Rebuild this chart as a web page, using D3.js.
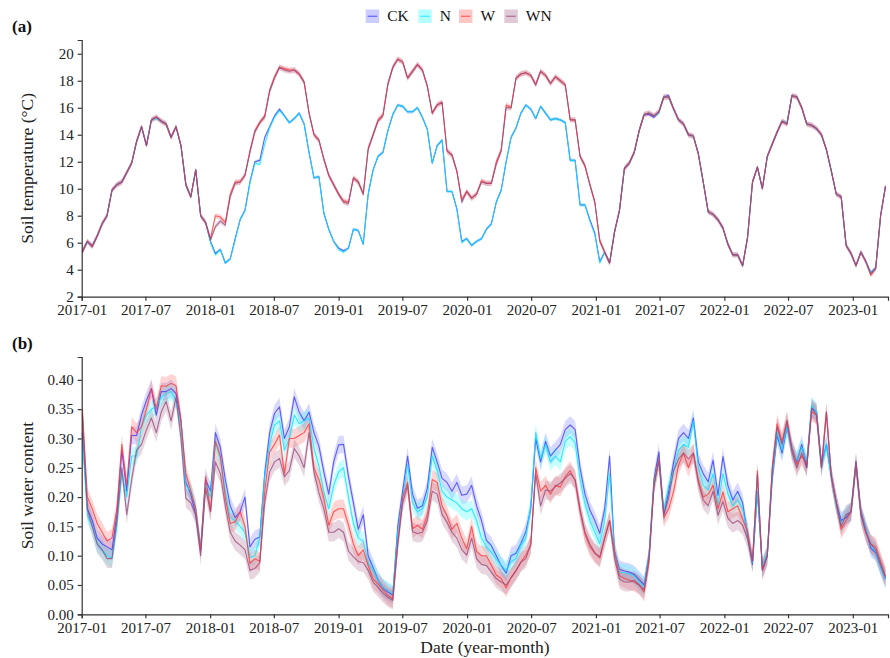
<!DOCTYPE html>
<html>
<head>
<meta charset="utf-8">
<script src="https://cdn.jsdelivr.net/npm/d3@7"></script>
<style>
  body { margin: 0; background: #fff; }
  text { font-family: "Liberation Serif", "Times New Roman", serif; }
</style>
</head>
<body>
<svg id="chart" width="890" height="658"></svg>
<script>

// ---- data (one sample every two weeks) ----
const groups = ["CK", "N", "W", "WN"];
const START_DATE = "2017-01-03";
const STEP_DAYS = 14;

const tempTicks = [2, 4, 6, 8, 10, 12, 14, 16, 18, 20];
const swcTicks = [0, 0.05, 0.10, 0.15, 0.20, 0.25, 0.30, 0.35, 0.40];

// soil temperature (°C)
const tCK = [5.3,6.1,5.7,6.5,7.4,8.0,9.9,10.3,10.5,11.2,11.9,13.5,14.6,13.2,15.1,15.3,15.0,14.8,13.8,14.6,13.2,10.3,9.4,11.4,8.0,7.5,
  6.1,5.2,5.5,4.5,4.8,6.3,7.7,8.4,10.5,12.0,12.1,13.8,14.6,15.4,15.9,15.4,14.9,15.2,15.6,14.8,12.7,10.8,10.9,8.2,7.0,
  6.1,5.6,5.4,5.6,7.0,6.9,5.9,9.6,11.4,12.4,12.7,14.3,15.5,16.2,16.1,15.7,15.7,16.0,15.3,14.4,11.9,13.2,13.6,9.8,9.8,
  8.5,6.1,6.3,5.8,6.1,6.3,7.0,7.4,9.0,9.9,12.0,13.8,14.5,15.6,16.2,15.9,15.2,16.1,15.6,15.1,15.2,15.1,14.9,12.1,12.1,
  8.8,8.8,7.7,6.7,4.6,5.3,4.5,6.8,8.4,11.5,11.9,12.7,14.3,15.5,15.5,15.3,15.7,16.8,16.9,15.9,15.1,14.8,14.0,13.9,12.6,
  10.5,8.3,8.1,7.7,7.1,5.9,5.1,5.1,4.3,6.4,10.5,11.6,10.0,12.4,13.3,14.2,15.0,14.8,16.9,16.8,16.0,14.8,14.7,14.45,14.0,
  12.9,11.3,9.6,9.4,5.8,5.2,4.3,5.3,4.6,3.8,4.1,8.0,10.2];
const tN = [5.4,6.0,5.8,6.5,7.4,8.0,9.9,10.3,10.5,11.2,11.9,13.5,14.6,13.2,15.1,15.2,15.0,14.8,13.8,14.6,13.2,10.3,9.4,11.4,8.0,7.5,
  6.0,5.1,5.5,4.5,4.8,6.2,7.7,8.4,10.4,11.9,11.8,13.3,14.5,15.3,15.8,15.4,14.9,15.2,15.6,14.8,12.7,10.8,10.9,8.2,7.0,
  6.1,5.5,5.3,5.6,7.0,6.9,5.9,9.6,11.4,12.4,12.7,14.3,15.5,16.2,16.1,15.7,15.7,16.0,15.3,14.4,11.9,13.2,13.6,9.8,9.8,
  8.5,6.0,6.3,5.8,6.1,6.3,7.0,7.4,9.0,9.9,12.0,13.8,14.5,15.6,16.2,15.9,15.2,16.1,15.6,15.1,15.2,15.1,14.9,12.1,12.1,
  8.8,8.8,7.6,6.6,4.5,5.3,4.5,6.8,8.4,11.5,11.9,12.7,14.3,15.5,15.6,15.4,15.6,16.8,16.8,15.9,15.1,14.8,14.0,13.9,12.6,
  10.5,8.3,8.1,7.7,7.1,5.9,5.1,5.1,4.3,6.4,10.5,11.6,10.0,12.4,13.3,14.2,15.0,14.9,16.9,16.8,16.0,14.8,14.7,14.45,14.0,
  12.9,11.3,9.6,9.4,5.8,5.2,4.3,5.3,4.6,3.8,4.1,8.0,10.2];
const tW = [5.3,6.1,5.7,6.5,7.4,8.0,9.9,10.3,10.5,11.2,11.9,13.5,14.6,13.2,15.1,15.3,15.0,14.8,13.8,14.6,13.2,10.3,9.4,11.4,8.0,7.5,
  6.3,8.0,7.9,7.5,9.6,10.5,10.5,11.0,12.8,14.3,14.9,15.4,17.3,18.3,19.0,18.9,18.8,18.8,18.5,17.9,15.6,14.0,13.6,12.2,11.0,
  10.3,9.6,9.1,9.0,10.8,10.5,9.6,13.0,14.0,15.1,15.5,17.8,19.0,19.6,19.4,18.2,18.7,19.2,18.8,17.6,15.6,16.2,16.4,12.8,12.5,
  11.3,9.2,9.8,9.3,9.6,10.6,10.4,10.4,12.0,12.9,16.2,16.0,18.2,18.5,18.6,18.4,17.7,18.7,18.4,17.8,18.3,18.0,17.7,15.1,15.1,
  12.4,11.7,10.3,9.0,6.2,5.3,4.5,6.8,8.4,11.5,11.9,12.7,14.3,15.5,15.6,15.4,15.7,16.8,16.8,15.9,15.1,14.8,14.0,13.9,12.6,
  10.5,8.3,8.1,7.7,7.1,5.9,5.1,5.1,4.3,6.4,10.5,11.6,10.0,12.4,13.3,14.2,15.0,14.8,16.9,16.8,16.0,14.8,14.7,14.45,14.0,
  12.9,11.3,9.6,9.4,5.8,5.2,4.3,5.3,4.6,3.6,4.1,8.0,10.2];
const tWN = [5.4,6.1,5.8,6.5,7.4,8.0,9.9,10.3,10.5,11.2,11.9,13.5,14.6,13.2,15.1,15.3,15.0,14.8,13.8,14.6,13.2,10.3,9.4,11.4,8.0,7.5,
  6.2,7.2,7.6,7.3,9.4,10.4,10.5,11.0,12.7,14.2,14.9,15.3,17.2,18.2,19.0,18.8,18.7,18.8,18.5,17.9,15.6,14.0,13.6,12.2,11.0,
  10.3,9.6,9.0,8.9,10.8,10.5,9.6,12.9,14.0,15.0,15.4,17.7,19.0,19.6,19.4,18.2,18.7,19.2,18.8,17.6,15.6,16.2,16.4,12.8,12.5,
  11.3,9.0,9.8,9.3,9.6,10.5,10.4,10.4,11.8,12.8,16.0,16.0,18.2,18.5,18.6,18.4,17.7,18.7,18.4,17.8,18.3,18.0,17.7,15.1,15.1,
  12.4,11.7,10.3,9.0,6.1,5.3,4.5,6.8,8.4,11.5,11.9,12.7,14.3,15.5,15.6,15.4,15.7,16.8,16.8,15.9,15.1,14.8,14.0,13.9,12.6,
  10.5,8.3,8.1,7.7,7.1,5.9,5.1,5.1,4.3,6.4,10.5,11.6,10.0,12.4,13.3,14.2,15.0,14.8,16.9,16.8,16.0,14.8,14.7,14.45,14.0,
  12.9,11.3,9.6,9.4,5.8,5.2,4.3,5.3,4.6,3.7,4.1,8.0,10.2];

// soil water content
const wCK = [0.31,0.18,0.16,0.13,0.12,0.115,0.11,0.17,0.28,0.21,
  0.305,0.305,0.34,0.365,0.385,0.34,0.38,0.38,0.385,0.377,
  0.33,0.225,0.205,0.17,0.11,0.23,0.21,0.31,0.285,0.23,
  0.185,0.165,0.175,0.20,0.115,0.128,0.132,0.24,0.31,0.343,
  0.354,0.30,0.32,0.371,0.345,0.33,0.345,0.31,0.287,0.243,
  0.205,0.26,0.289,0.29,0.235,0.19,0.145,0.17,0.10,0.08,
  0.058,0.045,0.038,0.033,0.15,0.21,0.27,0.205,0.181,0.185,
  0.215,0.285,0.26,0.232,0.225,0.21,0.225,0.203,0.205,0.22,
  0.185,0.16,0.126,0.117,0.10,0.083,0.07,0.10,0.104,0.121,
  0.141,0.18,0.30,0.26,0.295,0.27,0.28,0.29,0.315,0.323,
  0.315,0.25,0.205,0.178,0.16,0.138,0.18,0.27,0.107,0.077,
  0.074,0.072,0.068,0.059,0.05,0.10,0.23,0.277,0.17,0.21,
  0.26,0.30,0.31,0.30,0.335,0.26,0.24,0.226,0.263,0.203,
  0.269,0.22,0.195,0.21,0.19,0.135,0.085,0.21,0.078,0.10,
  0.23,0.305,0.275,0.32,0.283,0.26,0.29,0.25,0.352,0.345,
  0.255,0.29,0.235,0.19,0.16,0.165,0.175,0.26,0.175,0.145,
  0.113,0.105,0.082,0.06];
const wN = [0.30,0.17,0.15,0.12,0.11,0.10,0.095,0.15,0.24,0.20,
  0.27,0.27,0.32,0.34,0.35,0.355,0.37,0.377,0.38,0.365,
  0.32,0.22,0.21,0.18,0.112,0.22,0.20,0.295,0.265,0.21,
  0.165,0.16,0.15,0.14,0.097,0.10,0.13,0.235,0.29,0.323,
  0.33,0.28,0.30,0.34,0.325,0.33,0.335,0.283,0.253,0.209,
  0.18,0.22,0.243,0.25,0.20,0.155,0.13,0.125,0.088,0.075,
  0.058,0.046,0.04,0.035,0.14,0.20,0.255,0.19,0.175,0.18,
  0.20,0.27,0.245,0.21,0.20,0.195,0.19,0.18,0.175,0.18,
  0.16,0.13,0.115,0.106,0.094,0.084,0.075,0.09,0.095,0.118,
  0.13,0.185,0.31,0.265,0.29,0.26,0.27,0.26,0.295,0.303,
  0.293,0.23,0.188,0.16,0.14,0.12,0.16,0.24,0.107,0.072,
  0.071,0.069,0.065,0.055,0.047,0.10,0.225,0.265,0.175,0.22,
  0.245,0.28,0.29,0.285,0.33,0.25,0.22,0.212,0.24,0.186,
  0.24,0.205,0.185,0.195,0.18,0.14,0.088,0.21,0.082,0.105,
  0.235,0.31,0.28,0.32,0.28,0.263,0.285,0.26,0.357,0.345,
  0.25,0.29,0.235,0.185,0.155,0.17,0.175,0.255,0.17,0.145,
  0.118,0.107,0.082,0.06];
const wW = [0.35,0.20,0.18,0.155,0.14,0.125,0.13,0.18,0.29,0.22,
  0.32,0.31,0.32,0.35,0.385,0.35,0.39,0.389,0.394,0.39,
  0.33,0.24,0.21,0.18,0.11,0.235,0.175,0.295,0.27,0.20,
  0.155,0.158,0.175,0.15,0.087,0.095,0.09,0.21,0.277,0.29,
  0.306,0.24,0.30,0.30,0.305,0.31,0.325,0.249,0.23,0.198,
  0.152,0.175,0.18,0.18,0.152,0.12,0.10,0.11,0.083,0.06,
  0.052,0.042,0.032,0.027,0.12,0.20,0.225,0.146,0.152,0.145,
  0.17,0.23,0.225,0.185,0.168,0.145,0.155,0.13,0.112,0.15,
  0.107,0.10,0.10,0.084,0.067,0.061,0.045,0.063,0.075,0.089,
  0.101,0.118,0.25,0.21,0.22,0.205,0.22,0.217,0.235,0.245,
  0.228,0.175,0.137,0.115,0.104,0.096,0.13,0.16,0.107,0.066,
  0.061,0.058,0.055,0.05,0.038,0.09,0.22,0.266,0.165,0.18,
  0.21,0.255,0.275,0.25,0.275,0.23,0.20,0.205,0.22,0.18,
  0.209,0.175,0.18,0.185,0.162,0.142,0.09,0.245,0.075,0.10,
  0.25,0.325,0.295,0.33,0.283,0.256,0.27,0.255,0.346,0.34,
  0.25,0.345,0.235,0.19,0.145,0.16,0.175,0.255,0.17,0.14,
  0.12,0.115,0.09,0.065];
const wWN = [0.34,0.18,0.15,0.12,0.11,0.095,0.095,0.16,0.25,0.17,
  0.23,0.28,0.29,0.315,0.335,0.31,0.345,0.363,0.33,0.37,
  0.30,0.198,0.19,0.17,0.10,0.215,0.175,0.26,0.24,0.185,
  0.14,0.125,0.118,0.11,0.075,0.078,0.088,0.19,0.243,0.26,
  0.266,0.235,0.245,0.283,0.27,0.25,0.31,0.243,0.207,0.18,
  0.14,0.14,0.146,0.14,0.108,0.098,0.09,0.088,0.075,0.055,
  0.046,0.036,0.029,0.024,0.12,0.19,0.22,0.141,0.138,0.14,
  0.16,0.21,0.205,0.17,0.157,0.14,0.13,0.11,0.101,0.13,
  0.095,0.085,0.083,0.072,0.061,0.055,0.05,0.062,0.074,0.089,
  0.095,0.12,0.24,0.185,0.212,0.21,0.218,0.224,0.232,0.24,
  0.23,0.18,0.14,0.12,0.105,0.098,0.13,0.16,0.095,0.06,
  0.055,0.055,0.058,0.05,0.042,0.095,0.22,0.262,0.17,0.20,
  0.245,0.265,0.275,0.265,0.275,0.225,0.195,0.185,0.21,0.169,
  0.192,0.164,0.155,0.16,0.152,0.128,0.09,0.24,0.075,0.10,
  0.245,0.32,0.29,0.33,0.277,0.25,0.275,0.25,0.352,0.34,
  0.25,0.345,0.235,0.19,0.15,0.17,0.175,0.26,0.17,0.14,
  0.12,0.11,0.085,0.063];

// standard-error half widths of the ribbons (CK, N, W, WN)
const seTemp = [0.12, 0.12, 0.2, 0.2];
const seSwc = [0.015, 0.015, 0.016, 0.016];


// ---- layout & style ----
let kPanelA = { "x": 81.7, "y": 40, "w": 806.3, "h": 256.7 };
let kPanelB = { "x": 81.7, "y": 357, "w": 806.3, "h": 257.3 };

let kColors = {
  "line": ["#3c3cff", "#10e0ff", "#ff3838", "#9a4a7c"],
  "fill": ["#8080ff", "#40ffff", "#ff7070", "#b07898"],
  "axis": "#333333",
  "text": "#222222"
};

let FONT_TICK = 15;
let FONT_TITLE = 17.5;

const svg = d3.select("#chart");

const parseDay = d3.timeParse("%Y-%m-%d");
const dates = tCK.map((v, i) => d3.timeDay.offset(parseDay(START_DATE), i * STEP_DAYS));

const x = d3.scaleTime()
  .domain([parseDay("2017-01-01"), parseDay("2023-04-11")])
  .range([kPanelA.x, kPanelA.x + kPanelA.w]);


function drawPanel(panel, series, se, domain, ticks, fmt, label, title){
  const y = d3.scaleLinear()
    .domain(domain)
    .range([panel.y + panel.h, panel.y]);

  const g = svg.append("g");

  // ribbons first, then lines on top (same order as the legend)
  series.forEach(function(vals, k){
    const area = d3.area()
      .x((d, i) => x(dates[i]))
      .y0(d => y(d - se[k]))
      .y1(d => y(d + se[k]));
    g.append("path")
      .datum(vals)
      .attr("d", area)
      .attr("fill", kColors.fill[k])
      .attr("fill-opacity", 0.3)
      .attr("stroke", "none");
  });

  series.forEach(function(vals, k){
    const line = d3.line()
      .x((d, i) => x(dates[i]))
      .y(d => y(d));
    g.append("path")
      .datum(vals)
      .attr("d", line)
      .attr("fill", "none")
      .attr("stroke", kColors.line[k])
      .attr("stroke-opacity", 0.8)
      .attr("stroke-width", 1.1)
      .attr("stroke-linejoin", "round");
  });

  // axes
  const xAxis = d3.axisBottom(x)
    .ticks(d3.timeMonth.every(6))
    .tickFormat(d3.timeFormat("%Y-%m"))
    .tickSizeOuter(0)
    .tickSize(4)
    .tickPadding(4);
  const yAxis = d3.axisLeft(y)
    .tickValues(ticks)
    .tickFormat(fmt)
    .tickSizeOuter(0)
    .tickSize(4)
    .tickPadding(4);

  const gx = svg.append("g")
    .attr("transform", "translate(0," + (panel.y + panel.h) + ")")
    .call(xAxis);
  const gy = svg.append("g")
    .attr("transform", "translate(" + panel.x + ",0)")
    .call(yAxis);

  [gx, gy].forEach(function(a){
    a.selectAll("path, line").attr("stroke", kColors.axis).attr("stroke-width", 1.2);
    a.selectAll("text")
      .attr("fill", kColors.text)
      .style("font-size", FONT_TICK + "px")
      .style("font-family", "Liberation Serif, serif");
  });

  // panel tag
  svg.append("text")
    .attr("x", 12)
    .attr("y", panel.y - 8)
    .attr("font-size", 17)
    .attr("font-weight", "bold")
    .attr("fill", "#111")
    .text(label);

  // y title
  svg.append("text")
    .attr("transform", "translate(33," + (panel.y + panel.h / 2) + ") rotate(-90)")
    .attr("text-anchor", "middle")
    .attr("font-size", FONT_TITLE)
    .attr("fill", kColors.text)
    .text(title);
}


function drawLegend(){
  let lx = [365.7, 418.3, 459, 504.3];
  let ty = 9.5;
  let size = 13.5;

  groups.forEach(function(name, k){
    svg.append("rect")
      .attr("x", lx[k])
      .attr("y", ty)
      .attr("width", size)
      .attr("height", size)
      .attr("fill", kColors.fill[k])
      .attr("fill-opacity", 0.4);
    svg.append("line")
      .attr("x1", lx[k] + 2).attr("x2", lx[k] + size - 2)
      .attr("y1", ty + size / 2).attr("y2", ty + size / 2)
      .attr("stroke", kColors.line[k])
      .attr("stroke-opacity", 0.8)
      .attr("stroke-width", 1.1);
    svg.append("text")
      .attr("x", lx[k] + size + 8)
      .attr("y", ty + size / 2 + 5)
      .attr("font-size", 15.5)
      .attr("fill", "#111")
      .text(name);
  });
}


drawPanel(kPanelA, [tCK, tN, tW, tWN], seTemp, [2, 21.02], tempTicks, d3.format("d"), "(a)", "Soil temperature (°C)");
drawPanel(kPanelB, [wCK, wN, wW, wWN], seSwc, [0, 0.439], swcTicks, d3.format(".2f"), "(b)", "Soil water content");
drawLegend();

// x title
svg.append("text")
  .attr("x", 485)
  .attr("y", 653)
  .attr("text-anchor", "middle")
  .attr("font-size", FONT_TITLE)
  .attr("fill", kColors.text)
  .text("Date (year-month)");

</script>
</body>
</html>
